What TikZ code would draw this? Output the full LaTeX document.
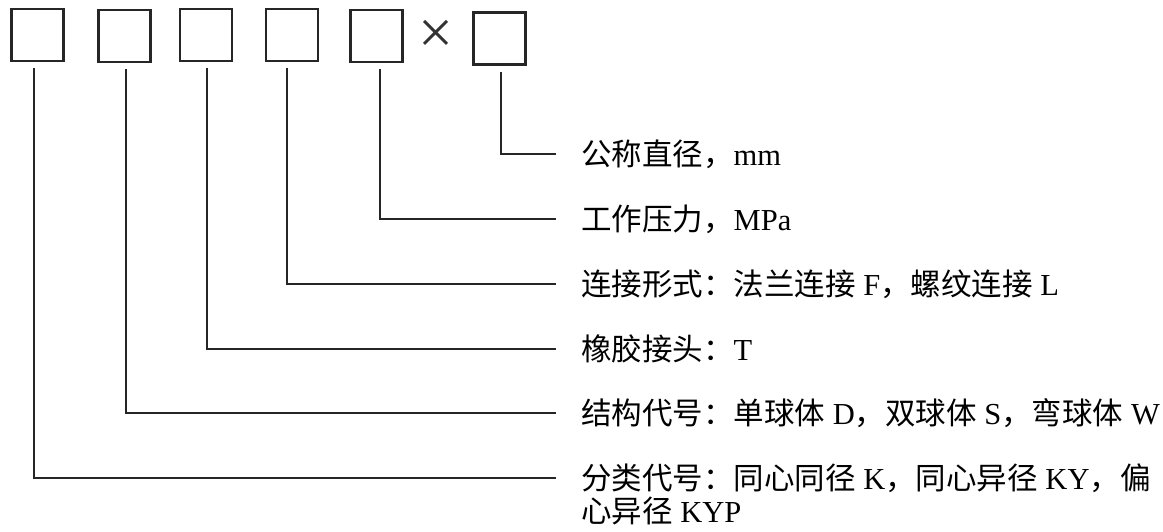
\documentclass[tikz,border=0pt]{standalone}
\usepackage{fontspec}
\setmainfont{Liberation Serif}
\newfontfamily\cjk{Noto Sans CJK SC}
\begin{document}
\begin{tikzpicture}[x=1pt,y=-1pt,
  codebox/.style={draw=black!85, line width=2.4pt, minimum width=52pt, minimum height=52pt, inner sep=0pt},
  leader/.style={draw=black!85, line width=2pt},
  lbl/.style={anchor=west, inner sep=0pt, font=\fontsize{30.5}{36}\selectfont}]
\useasboundingbox (0,0) rectangle (1163,531);
% code boxes
\node[codebox] (b1) at (37.5,35) {};
\node[codebox] (b2) at (124.5,36) {};
\node[codebox] (b3) at (206,35) {};
\node[codebox] (b4) at (292,35) {};
\node[codebox] (b5) at (376.5,36) {};
\node[inner sep=0pt, font=\fontsize{62}{62}\selectfont, text=black!80] (x) at (436,37) {×};
\node[codebox] (b6) at (499.5,38.5) {};
% labels
\node[lbl] (t1) at (581,154) {{\cjk 公称直径，}mm};
\node[lbl] (t2) at (581,219) {{\cjk 工作压力，}MPa};
\node[lbl] (t3) at (581,284) {{\cjk 连接形式：法兰连接} F{\cjk ，螺纹连接} L};
\node[lbl] (t4) at (581,349) {{\cjk 橡胶接头：}T};
\node[lbl] (t5) at (581,413) {{\cjk 结构代号：单球体} D{\cjk ，双球体} S{\cjk ，弯球体} W};
\node[lbl] (t6) at (581,478) {{\cjk 分类代号：同心同径} K{\cjk ，同心异径} KY{\cjk ，偏}};
\node[lbl] (t6b) at (581,511) {{\cjk 心异径} KYP};
% leaders
\draw[leader] ([xshift=-4pt,yshift=-6pt]b1.south) |- ([xshift=-25pt]t6.west);
\draw[leader] ([xshift=1.5pt,yshift=-6pt]b2.south) |- ([xshift=-25pt]t5.west);
\draw[leader] ([xshift=1pt,yshift=-6pt]b3.south) |- ([xshift=-25pt]t4.west);
\draw[leader] ([xshift=-5pt,yshift=-6pt]b4.south) |- ([xshift=-25pt]t3.west);
\draw[leader] ([xshift=3.5pt,yshift=-6pt]b5.south) |- ([xshift=-25pt]t2.west);
\draw[leader] ([xshift=1.5pt,yshift=-6pt]b6.south) |- ([xshift=-25pt]t1.west);
\end{tikzpicture}
\end{document}
